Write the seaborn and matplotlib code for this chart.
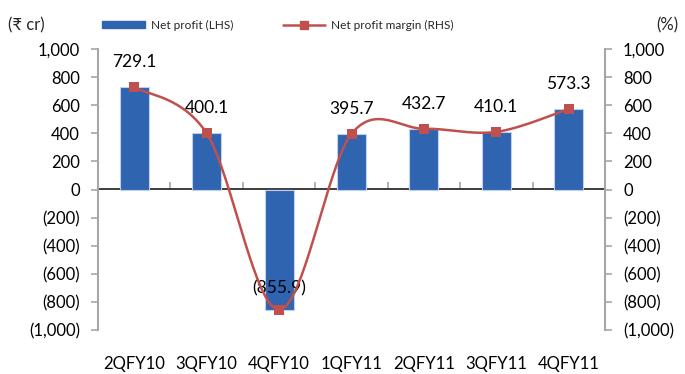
import numpy as np
import pandas as pd
import matplotlib
matplotlib.use("Agg")
import matplotlib.pyplot as plt
from matplotlib.lines import Line2D
from matplotlib.patches import Patch
from matplotlib.ticker import FuncFormatter, FixedLocator, NullFormatter
import seaborn as sns

quarters = ["2QFY10", "3QFY10", "4QFY10", "1QFY11", "2QFY11", "3QFY11", "4QFY11"]
net_profit = [729.1, 400.1, -855.9, 395.7, 432.7, 410.1, 573.3]
net_margin = [729.1, 400.1, -855.9, 395.7, 432.7, 410.1, 573.3]
y_ticks = [-1000, -800, -600, -400, -200, 0, 200, 400, 600, 800, 1000]

BAR = "#2F64B1"
LINE = "#C0504D"
GREY = "#A6A6A6"

sns.set_theme(style="white")
plt.rcParams["font.family"] = ["Lato", "DejaVu Sans"]

fig = plt.figure(figsize=(6.85, 3.74), dpi=100)
ax = fig.add_axes([98/685, 1-330/374, (605-98)/685, (330-49)/374])

df = pd.DataFrame({"q": quarters, "p": net_profit})
sns.barplot(data=df, x="q", y="p", ax=ax, color=BAR, width=0.4,
            edgecolor="#BFD0EA", linewidth=0.8, saturation=1)
ax.set_xlim(-0.5, 6.5)
ax.set_ylim(-1000, 1000)
ax.set_xlabel("")
ax.set_ylabel("")

def fmt(v, pos=None):
    v = int(round(v))
    if v < 0:
        return "({:,})".format(-v)
    return "{:,}".format(v)

ax.yaxis.set_major_locator(FixedLocator(y_ticks))
ax.yaxis.set_major_formatter(FuncFormatter(fmt))
for s in ["top", "right", "bottom"]:
    ax.spines[s].set_visible(False)
ax.spines["left"].set_color(GREY)
ax.spines["left"].set_linewidth(1.5)
ax.tick_params(axis="y", direction="out", length=5, width=1.2, color=GREY,
               labelsize=12, labelcolor="black", pad=8, left=True)
ax.tick_params(axis="x", length=0, labelsize=12, labelcolor="black", pad=19)

# zero axis line with category boundary ticks
sec = ax.secondary_xaxis(0.5)
sec.spines["bottom"].set_color(GREY)
sec.spines["bottom"].set_linewidth(1.5)
sec.set_xticks(np.arange(-0.5, 7, 1.0))
sec.xaxis.set_major_formatter(NullFormatter())
sec.tick_params(axis="x", direction="out", length=5, width=1.2, color=GREY)

# data labels
for i, v in enumerate(net_profit):
    if v >= 0:
        ax.annotate("{:.1f}".format(v), (i, v), xytext=(0, 25),
                    textcoords="offset pixels",
                    ha="center", va="center", fontsize=12.5, color="black")
    else:
        ax.annotate("({:.1f})".format(-v), (i, v), xytext=(0, 21),
                    textcoords="offset pixels",
                    ha="center", va="center", fontsize=12.5, color="black",
                    zorder=5)

# right axis with smooth line
ax2 = ax.twinx()
ax2.set_ylim(-1000, 1000)
ax2.yaxis.set_major_locator(FixedLocator(y_ticks))
ax2.yaxis.set_major_formatter(FuncFormatter(fmt))
for s in ["top", "left", "bottom"]:
    ax2.spines[s].set_visible(False)
ax2.spines["right"].set_color(GREY)
ax2.spines["right"].set_linewidth(1.5)
ax2.tick_params(axis="y", direction="out", length=5, width=1.2, color=GREY,
                labelsize=12, labelcolor="black", pad=8, right=True)

x = np.arange(len(quarters), dtype=float)
y = np.array(net_margin, dtype=float)
# Catmull-Rom (Excel-style smoothing) rendering of the series
px = np.concatenate([[x[0]], x, [x[-1]]])
py = np.concatenate([[y[0]], y, [y[-1]]])
xs, ys = [], []
t = np.linspace(0, 1, 40)
for i in range(1, len(px) - 2):
    p0x, p1x, p2x, p3x = px[i-1], px[i], px[i+1], px[i+2]
    p0y, p1y, p2y, p3y = py[i-1], py[i], py[i+1], py[i+2]
    c1x, c1y = p1x + (p2x - p0x) / 6, p1y + (p2y - p0y) / 6
    c2x, c2y = p2x - (p3x - p1x) / 6, p2y - (p3y - p1y) / 6
    bx = (1-t)**3*p1x + 3*(1-t)**2*t*c1x + 3*(1-t)*t**2*c2x + t**3*p2x
    by = (1-t)**3*p1y + 3*(1-t)**2*t*c1y + 3*(1-t)*t**2*c2y + t**3*p2y
    xs.extend(bx); ys.extend(by)
ax2.plot(xs, ys, color=LINE, lw=1.8, zorder=3)
sns.scatterplot(x=x, y=y, ax=ax2, marker="s", s=55, color=LINE,
                edgecolor=LINE, linewidth=0, zorder=4)
ax2.set_xlim(-0.5, 6.5)

# legend and axis unit labels
handles = [Patch(facecolor=BAR, edgecolor=BAR),
           Line2D([0], [0], color=LINE, lw=1.8, marker="s", markersize=6)]
fig.legend(handles, ["Net profit (LHS)", "Net profit margin (RHS)"],
           loc="center", bbox_to_anchor=(278/685, 1-25/374), ncol=2, frameon=False,
           fontsize=8.5, handlelength=3.6, handleheight=0.6, columnspacing=4.2,
           handletextpad=0.5)
fig.text(8/685, 1-25/374, "(₹ cr)", ha="left", va="center", fontsize=12)
fig.text(678/685, 1-25/374, "(%)", ha="right", va="center", fontsize=12)

fig.savefig("out.png", dpi=100)
